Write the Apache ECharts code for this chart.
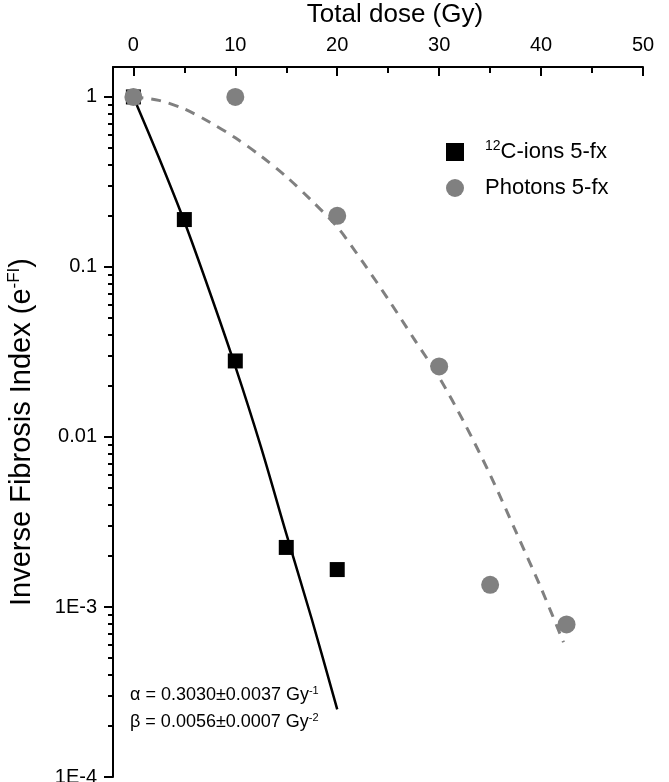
<!DOCTYPE html>
<html>
<head>
<meta charset="utf-8">
<script src="https://cdn.jsdelivr.net/npm/echarts@6/dist/echarts.min.js"></script>
<style>
  html, body { margin: 0; padding: 0; background: #fff; }
  #chart { width: 669px; height: 782px; }
</style>
</head>
<body>
<div id="chart"></div>
<script>
// measured points
var carbonDose = [0, 5, 10, 15, 20];
var carbonVal = [1, 0.19, 0.028, 0.00224, 0.00166];
var photonDose = [0, 10, 20, 30, 35, 42.5];
var photonVal = [1, 1, 0.2, 0.026, 0.00135, 0.00079];

// fit curves
var carbonFitDose = [0, 2.5, 5, 7.5, 10, 12.5, 15, 17.5, 20];
var carbonFitVal = [1, 0.44, 0.185, 0.071, 0.026, 0.0088, 0.0027, 0.00085, 0.00025];
var photonFitDose = [0, 2.5, 5, 7.5, 10, 12.5, 15, 17.5, 20, 22.5, 25, 27.5, 30, 32.5, 35, 37.5, 40, 42.2];
var photonFitVal = [1, 0.955, 0.85, 0.71, 0.575, 0.45, 0.34, 0.245, 0.172, 0.107, 0.0646, 0.038, 0.0224, 0.012, 0.006, 0.0028, 0.00129, 0.00062];

// axis ticks
var xMajor = [0, 10, 20, 30, 40, 50];
var xMinor = [5, 15, 25, 35, 45];
var yMajor = [1e-4, 1e-3, 0.01, 0.1, 1];
var yMajorLabels = ['1E-4', '1E-3', '0.01', '0.1', '1'];
var yMinor = [];
[1e-4, 1e-3, 0.01, 0.1].forEach(function (d) {
  for (var k = 2; k <= 9; k++) yMinor.push(k * d);
});

function pairs(xs, ys) {
  return xs.map(function (x, i) { return [x, ys[i]]; });
}

var font = 'Liberation Sans, Arial, sans-serif';
var chart = echarts.init(document.getElementById('chart'));

var xBase = {
  type: 'value', position: 'top', min: -2, max: 50,
  splitLine: { show: false },
  axisLine: { show: false, onZero: false }
};
var yBase = {
  type: 'log', logBase: 10, min: 1e-4, max: 1.5, position: 'left',
  splitLine: { show: false },
  axisLine: { show: false, onZero: false }
};

chart.setOption({
  animation: false,
  grid: { left: 113, right: 26, top: 67, bottom: 5, outerBoundsMode: 'none', containLabel: false },
  legend: {
    orient: 'vertical', left: 441, top: 134,
    itemWidth: 18, itemHeight: 18, itemGap: 14,
    data: ['C-ions 5-fx', 'Photons 5-fx'],
    formatter: function (n) { return n === 'C-ions 5-fx' ? '{sup|12}C-ions 5-fx' : n; },
    textStyle: {
      fontFamily: font, fontSize: 22, color: '#000', padding: [0, 0, 0, 16],
      rich: { sup: { fontFamily: font, fontSize: 14, color: '#000', padding: [0, 0, 12, 0] } }
    }
  },
  xAxis: [
    Object.assign({}, xBase, {
      axisLine: { show: true, onZero: false, lineStyle: { color: '#000', width: 2 } },
      axisTick: { inside: true, length: 9, customValues: xMajor, lineStyle: { color: '#000', width: 2 } },
      axisLabel: { customValues: xMajor, fontFamily: font, fontSize: 20, color: '#000', margin: 12 }
    }),
    Object.assign({}, xBase, {
      axisTick: { inside: true, length: 6, customValues: xMinor, lineStyle: { color: '#000', width: 2 } },
      axisLabel: { show: false }
    })
  ],
  yAxis: [
    Object.assign({}, yBase, {
      axisLine: { show: true, onZero: false, lineStyle: { color: '#000', width: 2 } },
      axisTick: { length: 9, customValues: yMajor, lineStyle: { color: '#000', width: 2 } },
      axisLabel: {
        customValues: yMajor, fontFamily: font, fontSize: 20, color: '#000', margin: 16,
        formatter: function (v) { return yMajorLabels[Math.round(Math.log10(v)) + 4]; }
      }
    }),
    Object.assign({}, yBase, {
      axisTick: { length: 5, customValues: yMinor, lineStyle: { color: '#000', width: 2 } },
      axisLabel: { show: false }
    })
  ],
  graphic: [
    {
      type: 'text', x: 395, y: 15,
      style: { text: 'Total dose (Gy)', fontFamily: font, fontSize: 26, fill: '#000', align: 'center', verticalAlign: 'middle' }
    },
    {
      type: 'text', x: 22, y: 432, rotation: Math.PI / 2,
      style: {
        text: 'Inverse Fibrosis Index (e{sup|-FI})', fontFamily: font, fontSize: 29, fill: '#000',
        align: 'center', verticalAlign: 'middle',
        rich: { sup: { fontFamily: font, fontSize: 17, fill: '#000', padding: [0, 0, 16, 0] } }
      }
    },
    {
      type: 'text', left: 130, top: 682,
      style: {
        text: 'α = 0.3030±0.0037 Gy{sup|-1}\nβ = 0.0056±0.0007 Gy{sup|-2}',
        fontFamily: font, fontSize: 18, fill: '#000', lineHeight: 27,
        rich: { sup: { fontFamily: font, fontSize: 11, fill: '#000', padding: [0, 0, 10, 0] } }
      }
    }
  ],
  series: [
    {
      name: 'fitC', type: 'line', data: pairs(carbonFitDose, carbonFitVal),
      smooth: 0.3, symbol: 'none', lineStyle: { color: '#000', width: 2.5 }, z: 2
    },
    {
      name: 'fitP', type: 'line', data: pairs(photonFitDose, photonFitVal),
      smooth: 0.3, symbol: 'none', lineStyle: { color: '#808080', width: 3, type: [10, 8] }, z: 2
    },
    {
      name: 'C-ions 5-fx', type: 'scatter', data: pairs(carbonDose, carbonVal),
      symbol: 'rect', symbolSize: 15, itemStyle: { color: '#000', opacity: 1 }, z: 3
    },
    {
      name: 'Photons 5-fx', type: 'scatter', data: pairs(photonDose, photonVal),
      symbol: 'circle', symbolSize: 18, itemStyle: { color: '#808080', opacity: 1 }, z: 4
    }
  ]
});
</script>
</body>
</html>
